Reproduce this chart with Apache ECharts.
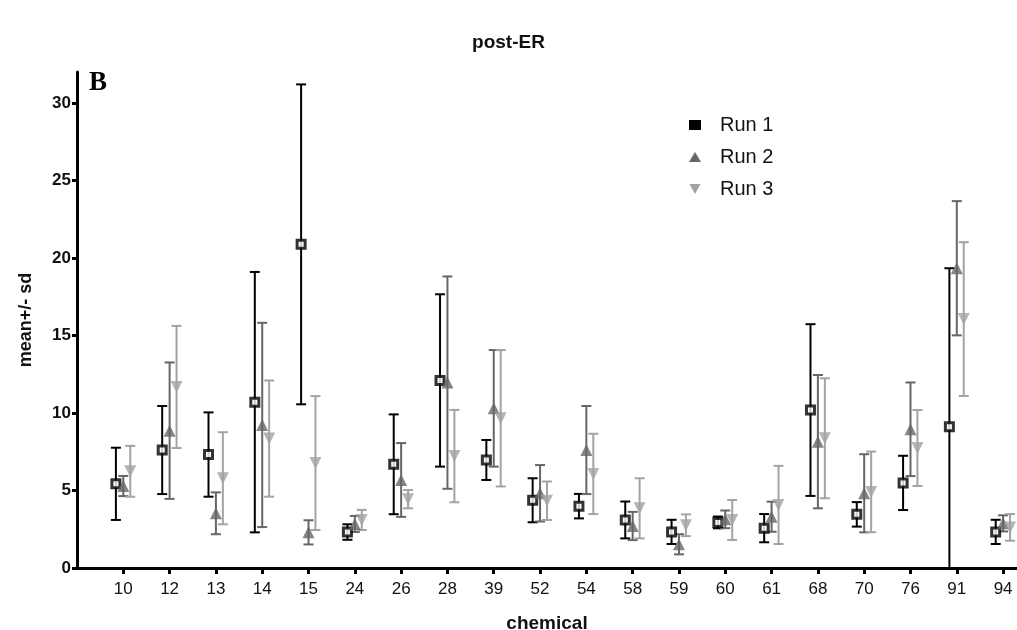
<!DOCTYPE html>
<html>
<head>
<meta charset="utf-8">
<title>post-ER</title>
<script src="https://cdn.jsdelivr.net/npm/echarts@6/dist/echarts.min.js"></script>
<style>
    html, body { margin: 0; padding: 0; background: #fff; }
    #chart { width: 1017px; height: 630px; }
</style>
</head>
<body>
<div id="chart"></div>
<script>
// chemical numbers on the x axis
var chemicals = ['10', '12', '13', '14', '15', '24', '26', '28', '39', '52', '54', '58', '59', '60', '61', '68', '70', '76', '91', '94'];

// mean and sd of each run
var run1Mean = [5.43, 7.61, 7.32, 10.7, 20.88, 2.32, 6.69, 12.1, 6.97, 4.37, 3.99, 3.1, 2.33, 2.94, 2.57, 10.19, 3.46, 5.49, 9.12, 2.33];
var run1Sd = [2.33, 2.84, 2.72, 8.4, 10.32, 0.5, 3.22, 5.56, 1.29, 1.42, 0.79, 1.19, 0.78, 0.38, 0.91, 5.54, 0.79, 1.75, 10.22, 0.78];
var run2Mean = [5.29, 8.86, 3.53, 9.23, 2.3, 2.84, 5.68, 11.96, 10.3, 4.82, 7.61, 2.71, 1.53, 3.14, 3.31, 8.15, 4.82, 8.95, 19.34, 2.88];
var run2Sd = [0.65, 4.4, 1.35, 6.59, 0.78, 0.52, 2.38, 6.85, 3.76, 1.82, 2.84, 0.91, 0.65, 0.57, 0.97, 4.3, 2.52, 3.02, 4.33, 0.52];
var run3Mean = [6.24, 11.68, 5.79, 8.35, 6.77, 3.1, 4.44, 7.22, 9.66, 4.34, 6.07, 3.85, 2.76, 3.1, 4.07, 8.37, 4.91, 7.74, 16.06, 2.62];
var run3Sd = [1.64, 3.94, 2.97, 3.75, 4.32, 0.65, 0.59, 2.98, 4.4, 1.24, 2.59, 1.94, 0.7, 1.29, 2.52, 3.87, 2.6, 2.45, 4.96, 0.86];

var yTicks = [0, 5, 10, 15, 20, 25, 30];

var runs = [
    { name: 'Run 1', mean: run1Mean, sd: run1Sd, color: '#000000', symbol: 'rect', size: 8, shift: -0.16 },
    { name: 'Run 2', mean: run2Mean, sd: run2Sd, color: '#666666', symbol: 'triangle', size: 12, shift: 0.0 },
    { name: 'Run 3', mean: run3Mean, sd: run3Sd, color: '#a3a3a3', symbol: 'path://M0,0 L10,0 L5,9 Z', size: 12, shift: 0.15 }
];

var xTicks = chemicals.map(function (c, i) { return i + 1; });

function errorBars(params, api) {
    var x = api.value(0);
    var top = api.coord([x, api.value(2)]);
    var bot = api.coord([x, api.value(1)]);
    var w = 5;
    var style = { stroke: api.visual('color'), lineWidth: 2 };
    return {
        type: 'group',
        children: [
            { type: 'line', shape: { x1: top[0], y1: top[1], x2: bot[0], y2: bot[1] }, style: style },
            { type: 'line', shape: { x1: top[0] - w, y1: top[1], x2: top[0] + w, y2: top[1] }, style: style },
            { type: 'line', shape: { x1: bot[0] - w, y1: bot[1], x2: bot[0] + w, y2: bot[1] }, style: style }
        ]
    };
}

var series = [];
runs.forEach(function (r) {
    series.push({
        type: 'custom',
        name: r.name,
        renderItem: errorBars,
        clip: true,
        itemStyle: { color: r.color },
        encode: { x: 0, y: [1, 2] },
        data: r.mean.map(function (m, i) {
            return [i + 1 + r.shift, m - r.sd[i], m + r.sd[i]];
        }),
        z: 2,
        silent: true
    });
});
runs.forEach(function (r) {
    series.push({
        type: 'scatter',
        name: r.name,
        symbol: r.symbol,
        symbolSize: r.size,
        itemStyle: r.symbol === 'rect'
            ? { color: '#ffffff', borderColor: '#000000', borderWidth: 3 }
            : { color: r.color },
        data: r.mean.map(function (m, i) { return [i + 1 + r.shift, m]; }),
        z: 3
    });
});

var myChart = echarts.init(document.getElementById('chart'));
var option = {
    animation: false,
    backgroundColor: '#ffffff',
    textStyle: { fontFamily: 'Liberation Sans' },
    title: {
        text: 'post-ER',
        left: 'center',
        top: 28,
        textStyle: { fontSize: 19, fontWeight: 'bold', color: '#111', fontFamily: 'Liberation Sans' }
    },
    graphic: [{
        type: 'text',
        left: 89,
        top: 70,
        style: { text: 'B', font: 'bold 27px "Liberation Serif"', fill: '#000' }
    }],
    legend: {
        orient: 'vertical',
        left: 684,
        top: 109,
        itemWidth: 12,
        itemHeight: 10,
        itemGap: 10,
        data: runs.map(function (r) { return { name: r.name, icon: r.symbol }; }),
        textStyle: { fontSize: 20, color: '#111', padding: [0, 0, 0, 14], lineHeight: 22, fontFamily: 'Liberation Sans' }
    },
    grid: { left: 77, right: 0, top: 72, bottom: 62, outerBoundsMode: 'none' },
    xAxis: {
        type: 'value',
        min: 0,
        max: 20.3,
        name: 'chemical',
        nameLocation: 'middle',
        nameGap: 46,
        nameTextStyle: { fontSize: 19, fontWeight: 'bold', color: '#111' },
        splitLine: { show: false },
        axisLine: { lineStyle: { color: '#000', width: 3 } },
        axisTick: { customValues: xTicks, length: 6, lineStyle: { color: '#000', width: 3 } },
        axisLabel: {
            customValues: xTicks,
            fontSize: 17,
            color: '#111',
            margin: 13,
            formatter: function (v) { return chemicals[Math.round(v) - 1] || ''; }
        }
    },
    yAxis: {
        type: 'value',
        min: 0,
        max: 32,
        name: 'mean+/- sd',
        nameLocation: 'middle',
        nameGap: 42,
        nameTextStyle: { fontSize: 18, fontWeight: 'bold', color: '#111' },
        splitLine: { show: false },
        axisLine: { show: true, lineStyle: { color: '#000', width: 3 } },
        axisTick: { show: true, customValues: yTicks, length: 5, lineStyle: { color: '#000', width: 3 } },
        axisLabel: { customValues: yTicks, fontSize: 17, fontWeight: 'bold', color: '#111', margin: 6 }
    },
    series: series
};
myChart.setOption(option);
window.addEventListener('resize', function () {
    myChart.resize();
});
</script>
</body>
</html>
